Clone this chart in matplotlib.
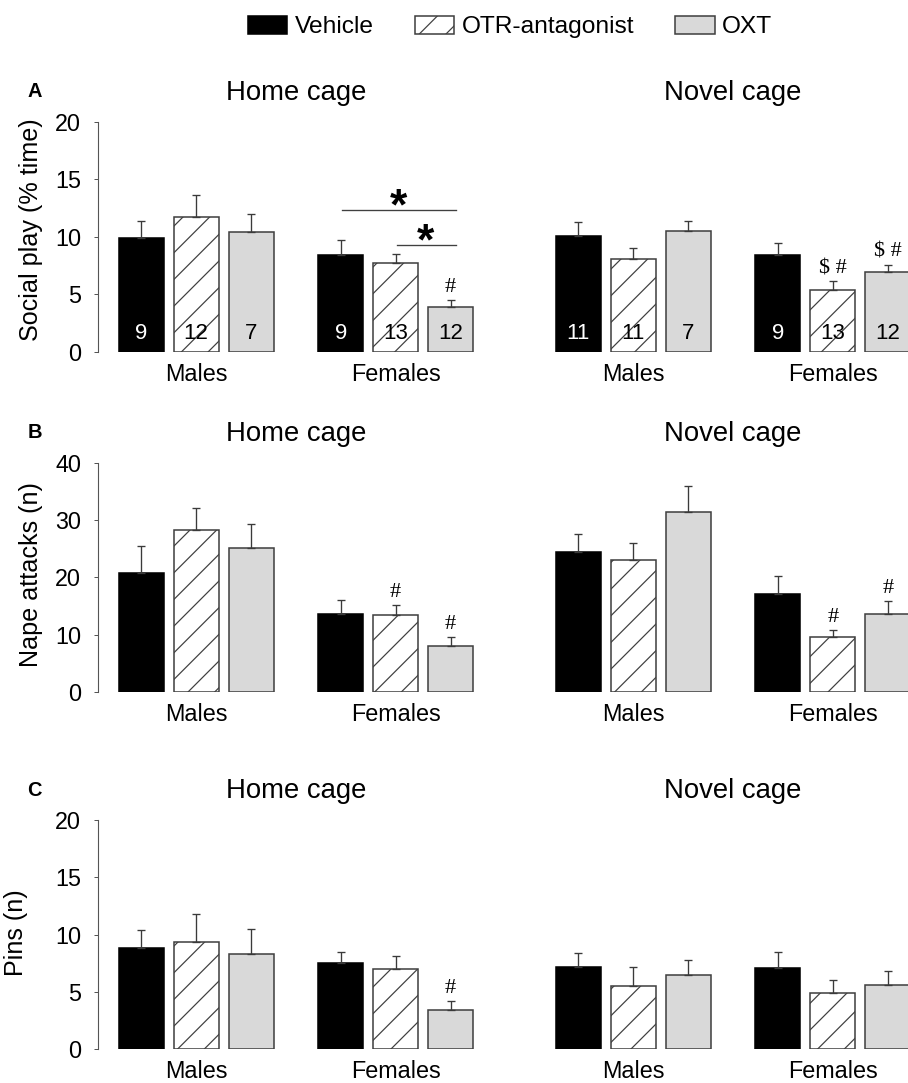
import matplotlib
matplotlib.use('Agg')
import matplotlib.pyplot as plt
import matplotlib.transforms as mtransforms
from matplotlib.patches import Patch

plt.rcParams['font.family'] = ['Liberation Sans', 'DejaVu Sans']
plt.rcParams['hatch.linewidth'] = 0.55

treatments = ['Vehicle', 'OTR-antagonist', 'OXT']
sexes = ['Males', 'Females']
contexts = ['Home cage', 'Novel cage']

# order of bars: home males, home females, novel males, novel females (veh, otr, oxt each)
play_mean = [9.9, 11.73, 10.42, 8.38, 7.71, 3.93, 10.04, 8.03, 10.48, 8.44, 5.33, 6.9]
play_sem = [1.45, 1.9, 1.52, 1.34, 0.76, 0.55, 1.23, 0.99, 0.87, 0.99, 0.78, 0.67]
play_n = [9, 12, 7, 9, 13, 12, 11, 11, 7, 9, 13, 12]

nape_mean = [20.7, 28.2, 25.05, 13.66, 13.5, 8.0, 24.35, 22.95, 31.36, 17.0, 9.64, 13.66]
nape_sem = [4.7, 3.9, 4.2, 2.34, 1.7, 1.6, 3.25, 2.95, 4.54, 3.3, 1.22, 2.28]

pins_mean = [8.78, 9.33, 8.31, 7.5, 6.98, 3.37, 7.15, 5.49, 6.48, 7.06, 4.85, 5.55]
pins_sem = [1.63, 2.5, 2.18, 0.99, 1.16, 0.82, 1.22, 1.66, 1.25, 1.4, 1.2, 1.25]

# significance marks (bar index, text)
play_marks = [(5, '#'), (10, '$ #'), (11, '$ #')]
nape_marks = [(4, '#'), (5, '#'), (10, '#'), (11, '#')]
pins_marks = [(5, '#')]
# brackets in panel A (from bar, to bar, height)
play_brackets = [(3, 5, 12.3), (4, 5, 9.3)]

rows = [
    ('A', 'Social play (% time)', play_mean, play_sem, play_marks, 20, 5, 0.53, -0.068),
    ('B', 'Nape attacks (n)', nape_mean, nape_sem, nape_marks, 40, 10, 0.51, -0.068),
    ('C', 'Pins (n)', pins_mean, pins_sem, pins_marks, 20, 5, 0.51, -0.087),
]

colors = ['black', 'white', '#d9d9d9']
edges = ['black', '#404040', '#404040']
hatches = [None, '//', None]
panel_off = [0, 7.95]
sex_off = [0, 3.63]

xs = []
for c in range(2):
    for s in range(2):
        for t in range(3):
            xs.append(panel_off[c] + sex_off[s] + t)

W, H = 908, 1083
dpi = 160
fig = plt.figure(figsize=(W / dpi, H / dpi), dpi=dpi)

bottoms_px = [351.7, 692, 1049]
heights_px = [230, 229.5, 229]

for r, (letter, ylab, mean, sem, marks, ymax, ystep, ylab_y, ylab_x) in enumerate(rows):
    ax = fig.add_axes([98 / W, 1 - bottoms_px[r] / H, 810 / W, heights_px[r] / H])
    for i, x in enumerate(xs):
        t = i % 3
        ax.bar(x, mean[i], width=0.818, color=colors[t], edgecolor=edges[t],
               hatch=hatches[t], linewidth=0.7, zorder=2)
        ax.errorbar(x, mean[i], yerr=[[0], [sem[i]]], fmt='none', ecolor='#3a3a3a',
                    elinewidth=0.6, capsize=1.9, capthick=0.6, zorder=3)
    for i, txt in marks:
        ax.annotate(txt, (xs[i], mean[i] + sem[i]), xytext=(0, 3.5),
                    textcoords='offset points', ha='center', va='baseline',
                    fontsize=10, family=['Liberation Serif', 'DejaVu Serif'])
    if r == 0:
        for i, n in enumerate(play_n):
            ax.annotate(str(n), (xs[i], 0), xytext=(0, 8.3), textcoords='offset points',
                        ha='center', va='center', fontsize=10,
                        color='white' if i % 3 == 0 else 'black', zorder=4)
        for a, b, h in play_brackets:
            ax.plot([xs[a] + 0.02, xs[b] + 0.1], [h, h], color='#404040', lw=0.6)
            ax.annotate('*', ((xs[a] + xs[b] + 0.1) / 2, h), xytext=(0, -4.3),
                        textcoords='offset points', ha='center', va='baseline',
                        fontsize=20, fontweight='bold')

    ax.set_xlim(-0.782, 13.945)
    ax.set_ylim(0, ymax)
    ax.set_yticks(range(0, ymax + 1, ystep))
    ax.tick_params(axis='y', direction='out', length=1.8, width=0.45, color='#555555',
                   pad=5.8, labelsize=10.5)
    centers = [panel_off[c] + sex_off[s] + 1 for c in range(2) for s in range(2)]
    ax.set_xticks(centers)
    ax.set_xticklabels(sexes * 2)
    ax.tick_params(axis='x', length=0, pad=5, labelsize=10.5)
    for sp in ['top', 'right', 'bottom']:
        ax.spines[sp].set_visible(False)
    ax.spines['left'].set_color('#555555')
    ax.spines['left'].set_linewidth(0.5)
    ax.set_ylabel(ylab, fontsize=11.3)
    ax.yaxis.set_label_coords(ylab_x, ylab_y)

    trans = mtransforms.blended_transform_factory(ax.transData, ax.transAxes)
    for c, title in enumerate(contexts):
        ax.text(panel_off[c] + sex_off[1] / 2 + 1, 1.125, title, transform=trans,
                ha='center', va='center', fontsize=12.4)
    ax.text(-0.078, 1.13, letter, transform=ax.transAxes, ha='center', va='center',
            fontsize=9, fontweight='bold')

handles = [Patch(facecolor=colors[t], edgecolor=edges[t], hatch=hatches[t], linewidth=0.7,
                 label=treatments[t]) for t in range(3)]
fig.legend(handles=handles, loc='center', bbox_to_anchor=(510 / W, 1 - 27 / H), ncol=3,
           frameon=False, fontsize=11, handlelength=1.6, handleheight=0.75,
           handletextpad=0.3, columnspacing=1.7)

fig.savefig('out.png', dpi=dpi)
